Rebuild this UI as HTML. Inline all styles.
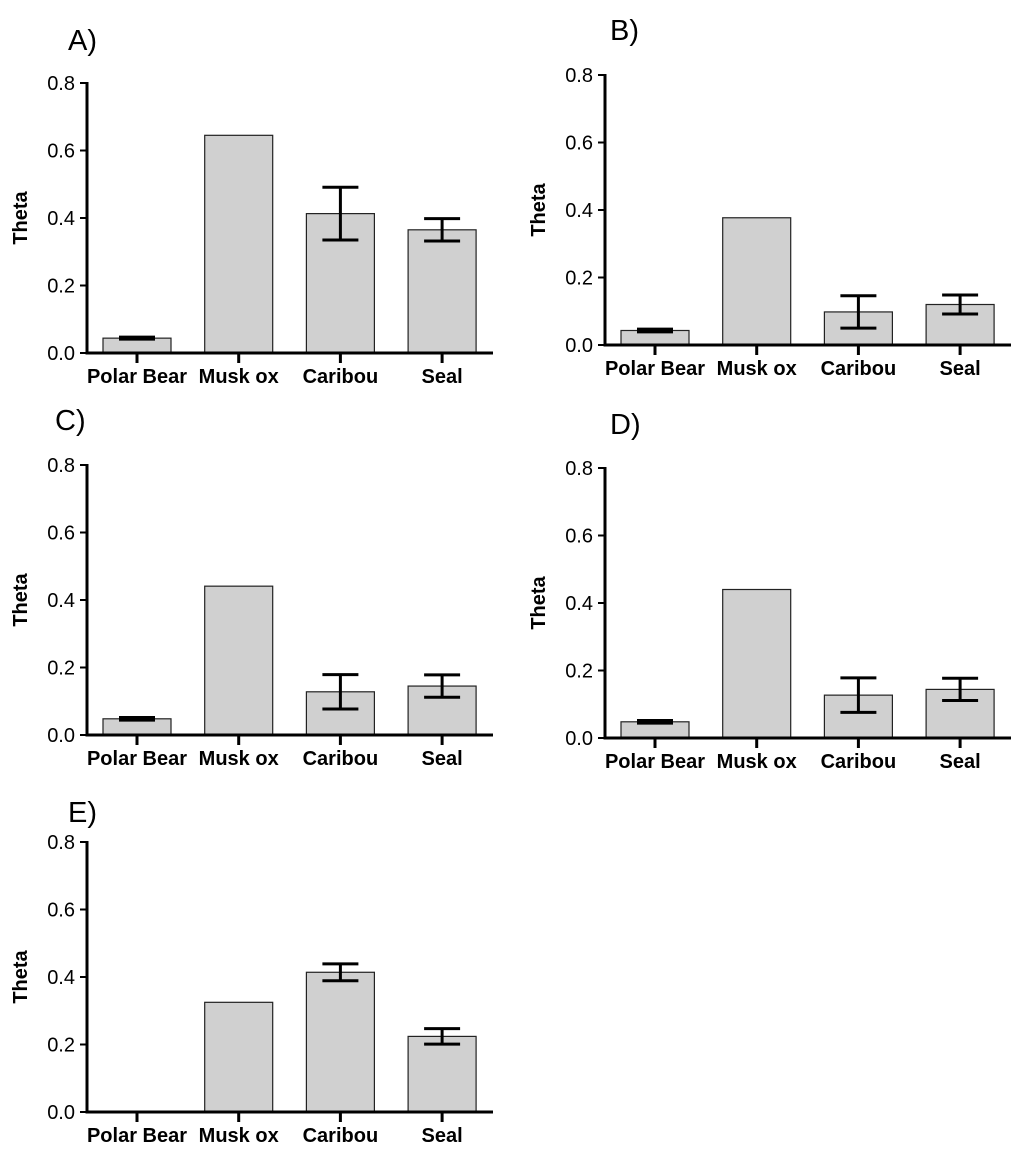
<!DOCTYPE html>
<html><head><meta charset="utf-8"><style>
body{margin:0;background:#fff}
svg{display:block;font-family:"Liberation Sans",Arial,sans-serif}
</style></head><body>
<svg id="fig" width="1024" height="1157" viewBox="0 0 1024 1157"></svg>
<script>
const categories=["Polar Bear","Musk ox","Caribou","Seal"];
const tickValues=[0,0.2,0.4,0.6,0.8];
const tickLabels=["0.0","0.2","0.4","0.6","0.8"];
const panelLabels=["A)","B)","C)","D)","E)"];
const valuesA=[0.044,0.645,0.413,0.365];
const errorsA=[0.003,null,0.078,0.033];
const valuesB=[0.043,0.377,0.098,0.120];
const errorsB=[0.004,null,0.048,0.028];
const valuesC=[0.048,0.441,0.128,0.145];
const errorsC=[0.004,null,0.051,0.033];
const valuesD=[0.048,0.440,0.127,0.144];
const errorsD=[0.004,null,0.051,0.033];
const valuesE=[0,0.325,0.414,0.224];
const errorsE=[null,null,0.025,0.023];
const NS="http://www.w3.org/2000/svg";
const svg=document.getElementById('fig');
function mk(tag,attrs,parent){const e=document.createElementNS(NS,tag);for(const k in attrs)e.setAttribute(k,attrs[k]);(parent||svg).appendChild(e);return e;}
const layouts=[
 {ax:87,zy:353,lx:68,ly:50},
 {ax:605,zy:345,lx:610,ly:40},
 {ax:87,zy:735,lx:55,ly:430},
 {ax:605,zy:738,lx:610,ly:434},
 {ax:87,zy:1112,lx:68,ly:822}];
const allVals=[valuesA,valuesB,valuesC,valuesD,valuesE];
const allErr=[errorsA,errorsB,errorsC,errorsD,errorsE];
layouts.forEach((L,p)=>{
 const g=mk('g',{});
 
 
 const yS=v=>L.zy-v/0.8*270;
 const xS=i=>L.ax+50+i*101.7;
 const t=mk('text',{x:L.lx,y:L.ly,'font-size':29},g);t.textContent=panelLabels[p];
 
 
 const yt=mk('text',{x:0,y:0,'font-size':20,'font-weight':'bold','text-anchor':'middle',transform:`translate(${L.ax-60},${L.zy-135}) rotate(-90)`},g);yt.textContent="Theta";
 
 
 categories.forEach((c,i)=>{
  const v=allVals[p][i],e=allErr[p][i],cx=xS(i);
  if(v>0){
   const b=mk('rect',{x:cx-34,y:yS(v),width:68,height:L.zy-yS(v),fill:'#d0d0d0',stroke:'#222','stroke-width':1.2},g);
   
   
  }
  if(e!=null){
   const eg=mk('g',{stroke:'#000','stroke-width':3},g);
   
   
   mk('line',{x1:cx,x2:cx,y1:yS(v-e),y2:yS(v+e)},eg);
   mk('line',{x1:cx-18,x2:cx+18,y1:yS(v-e),y2:yS(v-e)},eg);
   mk('line',{x1:cx-18,x2:cx+18,y1:yS(v+e),y2:yS(v+e)},eg);
  }
  mk('line',{x1:cx,x2:cx,y1:L.zy,y2:L.zy+10,stroke:'#000','stroke-width':3},g);
  const ct=mk('text',{x:cx,y:L.zy+30,'font-size':20,'font-weight':'bold','text-anchor':'middle'},g);ct.textContent=c;
  
  
 });
 tickValues.forEach((v,i)=>{
  mk('line',{x1:L.ax-7,x2:L.ax,y1:yS(v),y2:yS(v),stroke:'#000','stroke-width':2},g);
  const tl=mk('text',{x:L.ax-12,y:yS(v)+7,'font-size':20,'text-anchor':'end'},g);tl.textContent=tickLabels[i];
  
  
 });
 mk('line',{x1:L.ax,x2:L.ax,y1:yS(0.8)-1,y2:L.zy+1.5,stroke:'#000','stroke-width':3},g);
 mk('line',{x1:L.ax-1.5,x2:L.ax+406,y1:L.zy,y2:L.zy,stroke:'#000','stroke-width':3},g);
});
</script>
</body></html>
